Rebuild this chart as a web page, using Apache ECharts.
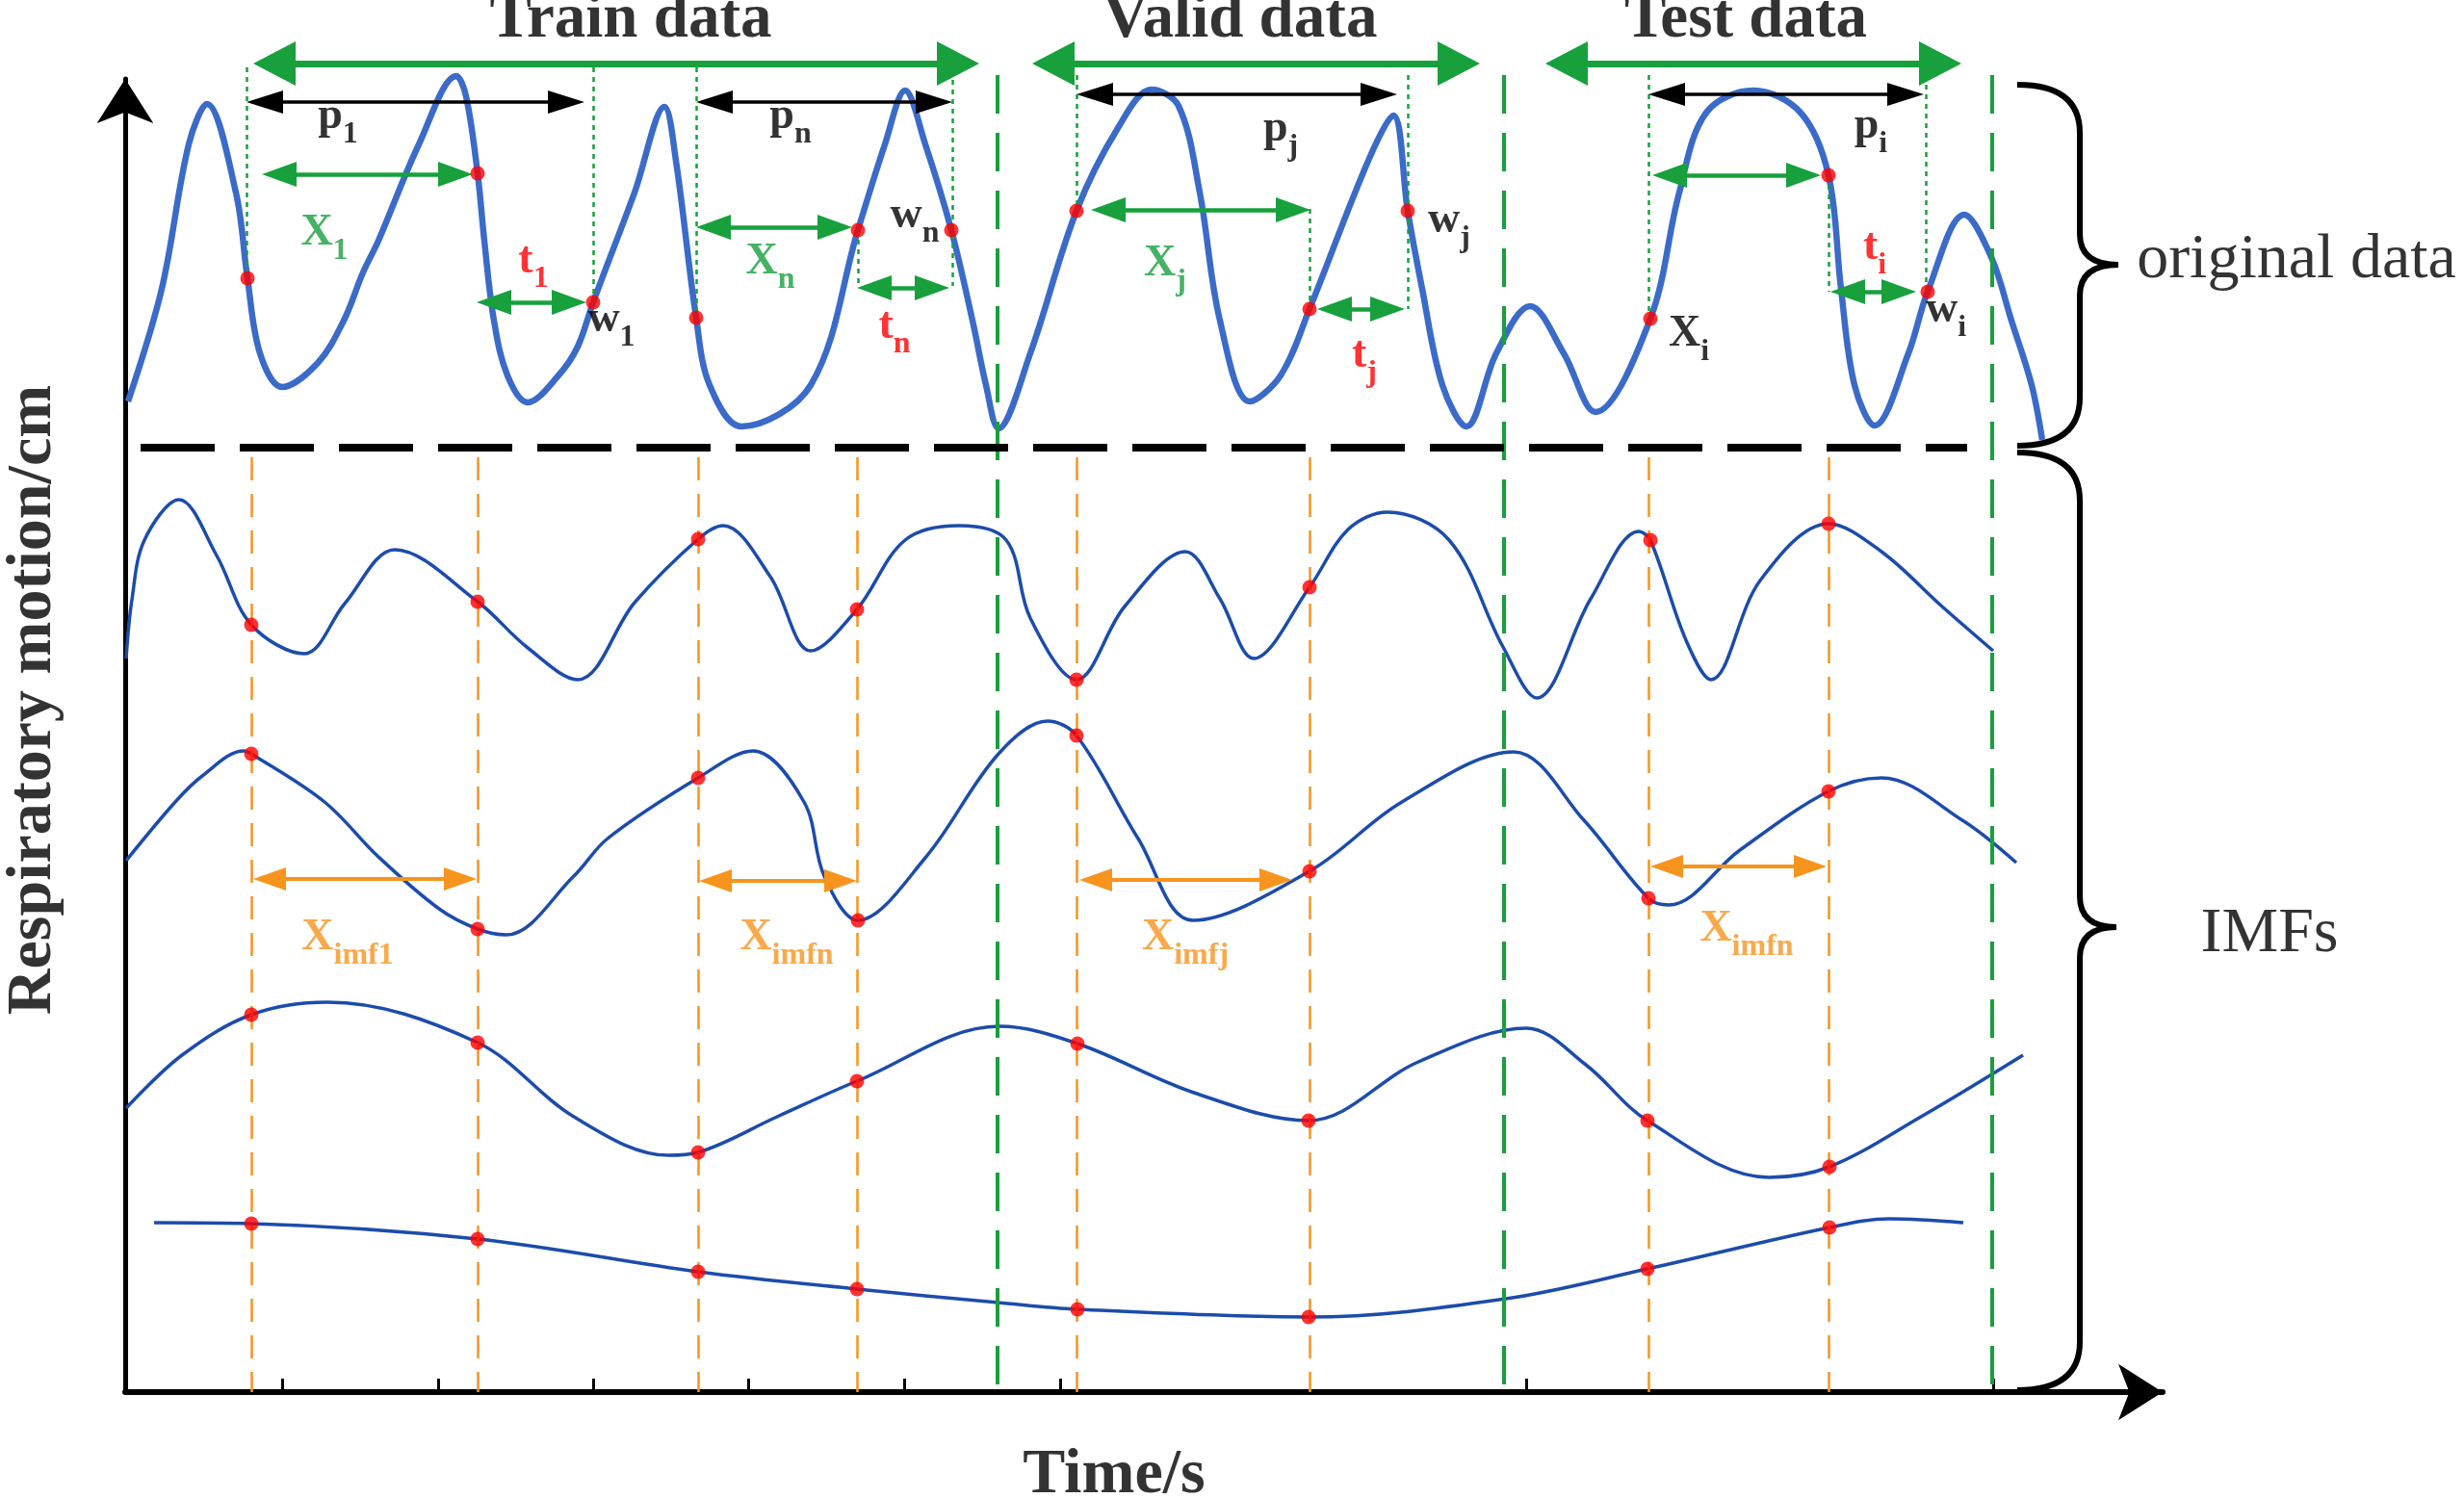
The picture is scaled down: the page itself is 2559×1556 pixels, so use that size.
<!DOCTYPE html>
<html>
<head>
<meta charset="utf-8">
<style>
  html, body { margin: 0; padding: 0; background: #fff; }
  #chart { width: 2559px; height: 1556px; }
</style>
<script src="https://cdn.jsdelivr.net/npm/echarts@6/dist/echarts.min.js"></script>
</head>
<body>
<div id="chart"></div>
<script>
// x = time index, y = motion level, both

// original respiratory signal (thick curve) and the marked samples on it
var originalData = [
  [133,1139],[168,1256],[196,1406],[215,1448],[245,1356],[257,1267],[270,1189],[293,1154],
  [330,1179],[357,1223],[377,1273],[393,1306],[435,1406],[474,1477],[484,1456],[496,1376],
  [503,1306],[513,1223],[527,1166],[548,1138],[580,1166],[600,1196],[616,1242],[659,1356],
  [690,1445],[702,1389],[723,1226],[737,1156],[770,1113],[842,1156],[891,1317],[919,1406],
  [940,1462],[961,1406],[988,1317],[1010,1223],[1024,1156],[1037,1111],[1070,1189],[1118,1337],
  [1161,1423],[1196,1463],[1224,1446],[1246,1356],[1267,1223],[1298,1139],[1330,1166],[1360,1235],
  [1421,1389],[1447,1436],[1462,1337],[1477,1256],[1498,1156],[1523,1113],[1554,1189],[1589,1238],
  [1624,1189],[1657,1128],[1714,1225],[1744,1356],[1772,1439],[1821,1462],[1870,1439],[1899,1374],
  [1912,1256],[1926,1156],[1947,1114],[1982,1189],[2002,1253],[2040,1333],[2068,1289],[2089,1223],
  [2110,1156],[2121,1099]
];
var originalMarks = [
  [257,1267],[496,1376],[616,1242],[723,1226],[891,1317],[988,1317],
  [1118,1337],[1360,1235],[1462,1337],[1714,1225],[1899,1374],[2002,1253]
];

// IMF components
var imf1 = [
  [131,872],[137,933],[150,995],[186,1037],[225,979],[261,907],[316,877],[358,929],[410,985],
  [496,931],[547,884],[600,850],[659,930],[725,996],[751,1010],[800,957],[842,880],[890,923],
  [940,995],[996,1010],[1045,995],[1070,914],[1118,850],[1168,926],[1231,983],[1267,934],
  [1302,872],[1360,946],[1400,1006],[1441,1024],[1505,995],[1561,884],[1596,831],[1652,934],
  [1702,1004],[1714,995],[1751,891],[1777,850],[1828,953],[1899,1012],[1954,983],[2017,926],[2070,880]
];
var imf1Marks = [[261,907],[496,931],[725,996],[890,923],[1118,850],[1360,946],[1714,995],[1899,1012]];

var imf2 = [
  [131,662],[182,723],[210,750],[253,776],[261,773],[337,723],[393,666],[456,612],[496,591],
  [526,585],[596,646],[631,685],[725,748],[782,776],[835,723],[856,646],[891,600],[961,665],
  [1037,773],[1088,807],[1118,792],[1182,685],[1239,600],[1360,651],[1456,723],[1572,775],
  [1645,704],[1712,623],[1733,616],[1807,673],[1899,734],[1954,748],[2038,704],[2094,660]
];
var imf2Marks = [[261,773],[496,591],[725,748],[891,600],[1118,792],[1360,651],[1712,623],[1899,734]];

var imf3 = [
  [131,405],[189,460],[261,502],[340,515],[496,473],[596,396],[694,356],[725,359],[807,396],
  [890,433],[1038,490],[1119,472],[1240,421],[1359,392],[1473,453],[1585,488],[1647,450],
  [1711,392],[1837,333],[1900,344],[1995,396],[2101,460]
];
var imf3Marks = [[261,502],[496,473],[725,359],[890,433],[1119,472],[1359,392],[1711,392],[1900,344]];

var imf4 = [
  [160,286],[261,285],[496,269],[725,235],[890,217],[1037,203],[1119,196],[1359,188],
  [1564,207],[1711,238],[1900,281],[1962,290],[2039,286]
];
var imf4Marks = [[261,285],[496,269],[725,235],[890,217],[1119,196],[1359,188],[1711,238],[1900,281]];

// time axis ticks, data split times, sample window times
var xTicks = [293, 455, 616, 777, 939, 1101, 1585, 2070];
var splitTimes = [1036, 1562, 2069];
var windowTimes = [261, 496, 725, 890, 1118, 1360, 1712, 1899];
var separatorLevel = 1091;

// spans [from, to, level]
var sectionSpans = [[263,1017,1490],[1072,1537,1490],[1605,2037,1490]];
var periodSpans = [[256,607,1450],[723,989,1450],[1118,1451,1458],[1712,1998,1458]];
var inputSpans = [[272,491,1375],[723,885,1320],[1133,1361,1338],[1716,1891,1374]];
var targetSpans = [[495,609,1242],[890,986,1257],[1368,1459,1235],[1901,1990,1253]];
var imfSpans = [[263,495,643],[726,890,641],[1121,1342,642],[1714,1897,656]];
// dotted guides [time, from, to]
var guideLines = [
  [256,1486,1267],[616,1486,1242],[723,1486,1226],[989,1473,1259],[891,1317,1259],
  [1118,1478,1337],[1462,1478,1235],[1360,1339,1235],[1712,1478,1225],[2000,1478,1253],[1899,1374,1253]
];
// braces [left, spine, tip, top, middle, bottom]
var braces = [[2095,2160,2200,1468,1281,1093],[2095,2160,2198,1086,593,112]];

// text
var sectionNames = [['Train data',655,1535],['Valid data',1288,1535],['Test data',1813,1535]];
var groupNames = [['original data',2385,1285],['IMFs',2357,585]];
var symbolLabels = [
  [351,1429,'p','1','black'],[821,1429,'p','n','black'],[1330,1416,'p','j','black'],[1943,1419,'p','i','black'],
  [337,1308,'X','1','green'],[800,1278,'X','n','green'],[1210,1276,'X','j','green'],[1754,1203,'X','i','black'],
  [554,1279,'t','1','red'],[929,1211,'t','n','red'],[1417,1181,'t','j','red'],[1947,1293,'t','i','red'],
  [635,1218,'w','1','black'],[950,1326,'w','n','black'],[1505,1321,'w','j','black'],[2021,1228,'w','i','black'],
  [361,576,'X','imf1','orange'],[817,576,'X','imfn','orange'],[1231,576,'X','imfj','orange'],[1814,585,'X','imfn','orange']
];
var xName = ['Time/s', 1157, 23];
var yName = ['Respiratory motion/cm', 35, 829];

var serif = '"Liberation Serif", "Times New Roman", serif';
var BLUE = '#3b6bc8', DARKBLUE = '#1c4cab', GREEN = '#17a03c', ORANGE = '#f7941e', RED = '#ff0000';

var chart = echarts.init(document.getElementById('chart'));

function mainStyle(c) { return { fontFamily: serif, fontWeight: 'bold', fontSize: 46, color: c, lineHeight: 58, verticalAlign: 'top' }; }
function subStyle(c) { return { fontFamily: serif, fontWeight: 'bold', fontSize: 32, color: c, lineHeight: 32, verticalAlign: 'bottom' }; }
var rich = {
  black: mainStyle('#000'), blackS: subStyle('#000'),
  green: mainStyle(GREEN), greenS: subStyle(GREEN),
  red: mainStyle(RED), redS: subStyle(RED),
  orange: mainStyle(ORANGE), orangeS: subStyle(ORANGE)
};

// all marks live on the full-canvas grid (index 1); grid 0 only shows the two axes
var ON = { xAxisIndex: 1, yAxisIndex: 1 };

function arrowLines(spans, head) {
  return spans.map(function (s) {
    return [{ coord: [s[0] + head / 2, s[2]] }, { coord: [s[1] - head / 2, s[2]] }];
  });
}
function vertLines(list) {
  return list.map(function (v) { return [{ coord: [v[0], v[1]] }, { coord: [v[0], v[2]] }]; });
}
function host(z, ml) {
  return Object.assign({
    type: 'line', data: [], z: z, silent: true,
    markLine: Object.assign({ silent: true, animation: false, label: { show: false }, emphasis: { disabled: true } }, ml)
  }, ON);
}
function curve(data, color, width) {
  return Object.assign({
    type: 'line', data: data, smooth: 0.35, showSymbol: false, clip: false, z: 4, silent: true,
    lineStyle: { color: color, width: width }
  }, ON);
}
function dots(data) {
  return Object.assign({
    type: 'scatter', data: data, symbolSize: 15, clip: false, z: 6, silent: true,
    itemStyle: { color: RED }
  }, ON);
}
function texts(items, style, extra) {
  return Object.assign({
    type: 'scatter', symbolSize: 0, clip: false, z: 8, silent: true,
    data: items.map(function (t) { return { name: t[0], value: [t[1], t[2]] }; }),
    label: Object.assign({ show: true, position: 'inside', formatter: '{b}' }, style, extra || {})
  }, ON);
}
function hiddenAxis(min, max) {
  return { type: 'value', min: min, max: max, show: false, splitLine: { show: false } };
}

var option = {
  animation: false,
  backgroundColor: '#fff',
  grid: [
    { left: 130, right: 313, top: 82, bottom: 110, outerBoundsMode: 'none' },
    { left: 0, right: 0, top: 0, bottom: 0, outerBoundsMode: 'none' }
  ],
  xAxis: [
    {
      type: 'value', min: 130, max: 2246, gridIndex: 0,
      axisLine: { show: true, onZero: false, symbol: ['none', 'arrow'], symbolSize: [44, 46], lineStyle: { color: '#000', width: 6 } },
      axisTick: { show: true, inside: true, length: 14, customValues: xTicks, lineStyle: { color: '#000', width: 3 } },
      axisLabel: { show: false },
      splitLine: { show: false }
    },
    Object.assign(hiddenAxis(0, 2559), { gridIndex: 1 })
  ],
  yAxis: [
    {
      type: 'value', min: 110, max: 1474, gridIndex: 0,
      axisLine: { show: true, onZero: false, symbol: ['none', 'arrow'], symbolSize: [44, 46], lineStyle: { color: '#000', width: 5 } },
      axisTick: { show: false },
      axisLabel: { show: false },
      splitLine: { show: false }
    },
    Object.assign(hiddenAxis(0, 1556), { gridIndex: 1 })
  ],
  series: [
    host(1, { symbol: ['none', 'none'], lineStyle: { color: ORANGE, width: 2.5, type: [24, 14] },
      data: vertLines(windowTimes.map(function (t) { return [t, 1081, 110]; })) }),
    host(1, { symbol: ['none', 'none'], lineStyle: { color: GREEN, width: 4, type: [40, 20] },
      data: vertLines(splitTimes.map(function (t) { return [t, 1478, 110]; })) }),
    host(1, { symbol: ['none', 'none'], lineStyle: { color: GREEN, width: 2.5, type: [5, 5] },
      data: vertLines(guideLines) }),
    host(2, { symbol: ['none', 'none'], lineStyle: { color: '#000', width: 8, type: [77, 26] },
      data: [[{ coord: [146, separatorLevel] }, { coord: [2043, separatorLevel] }]] }),
    host(5, { symbol: ['triangle', 'triangle'], symbolSize: [46, 44], lineStyle: { color: GREEN, width: 7, type: 'solid' },
      data: arrowLines(sectionSpans, 44) }),
    host(5, { symbol: ['triangle', 'triangle'], symbolSize: [24, 38], lineStyle: { color: '#000', width: 3.5, type: 'solid' },
      data: arrowLines(periodSpans, 38) }),
    host(5, { symbol: ['triangle', 'triangle'], symbolSize: [26, 36], lineStyle: { color: GREEN, width: 4.5, type: 'solid' },
      data: arrowLines(inputSpans.concat(targetSpans), 36) }),
    host(5, { symbol: ['triangle', 'triangle'], symbolSize: [24, 34], lineStyle: { color: ORANGE, width: 4, type: 'solid' },
      data: arrowLines(imfSpans, 34) }),
    curve(originalData, BLUE, 6.5),
    curve(imf1, DARKBLUE, 3.5),
    curve(imf2, DARKBLUE, 3.5),
    curve(imf3, DARKBLUE, 3.5),
    curve(imf4, DARKBLUE, 3.5),
    dots(originalMarks), dots(imf1Marks), dots(imf2Marks), dots(imf3Marks), dots(imf4Marks),
    Object.assign({
      type: 'custom', data: braces, z: 5, silent: true, clip: false,
      renderItem: function (params, api) {
        var l = api.value(0), m = api.value(1), tp = api.value(2);
        var a = api.coord([l, api.value(3)]), b = api.coord([m, api.value(4)]), c = api.coord([l, api.value(5)]);
        var xm = api.coord([m, 0])[0], xt = api.coord([tp, 0])[0];
        var r1 = 50, r2 = 32;
        var st = { stroke: '#000', lineWidth: 6, fill: null };
        return {
          type: 'group', children: [
            { type: 'bezierCurve', shape: { x1: a[0], y1: a[1], cpx1: xm, cpy1: a[1], x2: xm, y2: a[1] + r1 }, style: st },
            { type: 'line', shape: { x1: xm, y1: a[1] + r1, x2: xm, y2: b[1] - r2 }, style: st },
            { type: 'bezierCurve', shape: { x1: xm, y1: b[1] - r2, cpx1: xm, cpy1: b[1], x2: xt, y2: b[1] }, style: st },
            { type: 'bezierCurve', shape: { x1: xt, y1: b[1], cpx1: xm, cpy1: b[1], x2: xm, y2: b[1] + r2 }, style: st },
            { type: 'line', shape: { x1: xm, y1: b[1] + r2, x2: xm, y2: c[1] - r1 }, style: st },
            { type: 'bezierCurve', shape: { x1: xm, y1: c[1] - r1, cpx1: xm, cpy1: c[1], x2: c[0], y2: c[1] }, style: st }
          ]
        };
      }
    }, ON),
    Object.assign({
      type: 'scatter', symbolSize: 0, clip: false, z: 8, silent: true,
      data: symbolLabels.map(function (s) {
        return { name: '{' + s[4] + '|' + s[2] + '}{' + s[4] + 'S|' + s[3] + '}', value: [s[0], s[1]] };
      }),
      label: { show: true, position: 'inside', formatter: '{b}', rich: rich }
    }, ON),
    texts(sectionNames, { fontFamily: serif, fontWeight: 'bold', fontSize: 65, color: '#000' }),
    texts(groupNames, { fontFamily: serif, fontSize: 66, color: '#000' }),
    texts([xName], { fontFamily: serif, fontWeight: 'bold', fontSize: 66, color: '#000' }),
    texts([yName], { fontFamily: serif, fontWeight: 'bold', fontSize: 66, color: '#000' }, { rotate: 90 })
  ]
};

chart.setOption(option);
</script>
</body>
</html>
